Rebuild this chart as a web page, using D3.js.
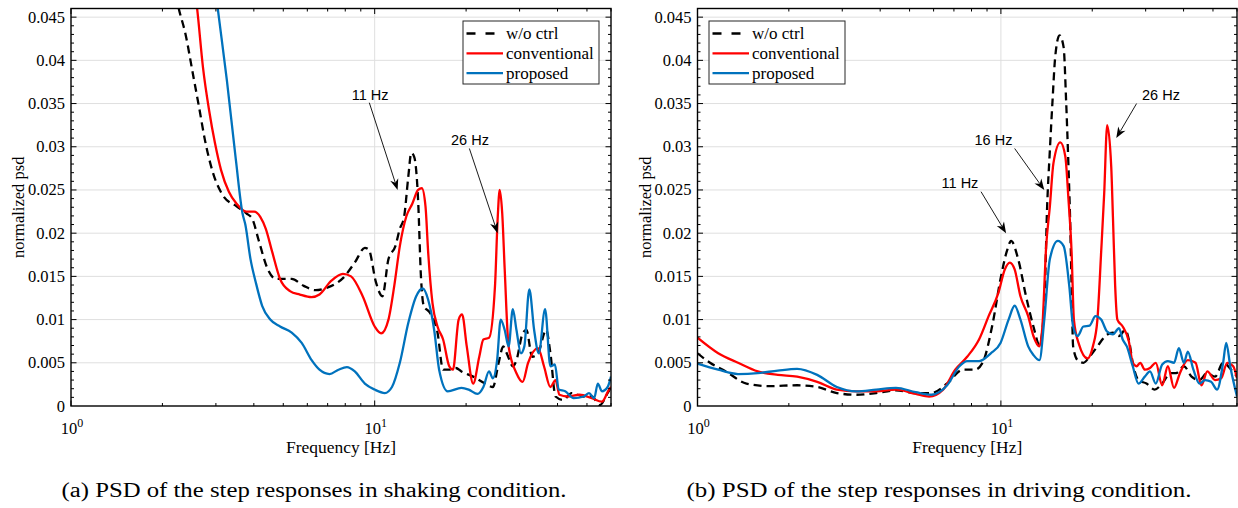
<!DOCTYPE html>
<html>
<head>
<meta charset="utf-8">
<script src="https://cdn.jsdelivr.net/npm/d3@7"></script>
<style>
  body { margin: 0; background: #fff; }
  svg { display: block; }
</style>
</head>
<body>
<svg id="fig" width="1238" height="508"></svg>
<script>
// ---- data (frequency in Hz, normalized psd) ----
var seriesNames = ["w/o ctrl", "conventional", "proposed"];
var yTicks = [0, 0.005, 0.01, 0.015, 0.02, 0.025, 0.03, 0.035, 0.04, 0.045];
var xTicks = [1, 10];

// (a) shaking condition
var shakeWoF = [2.1, 2.26, 2.38, 2.53, 2.64, 2.76, 2.94, 3.16, 3.51, 3.78, 3.96, 4.14, 4.45, 4.73, 5.33, 5.84, 6.38, 6.98, 7.86, 8.6, 9.28, 9.56, 10.1, 10.6, 11.1, 11.7, 12.1, 12.5, 12.9, 13.2, 13.5, 13.9, 14.2, 14.5, 15.2, 16.1, 16.8, 17.6, 18.5, 19.3, 21.1, 23.1, 24.5, 25.6, 26.5, 27.3, 28.5, 29.3, 30.7, 31.6, 33.0, 34.5, 36.7, 37.9, 39.4, 41.8, 44.5, 48.8, 51.9, 55.1, 58.5, 60];
var shakeWo  = [0.052, 0.0461, 0.0431, 0.0381, 0.0346, 0.0308, 0.0269, 0.0244, 0.0231, 0.0223, 0.0216, 0.0193, 0.0158, 0.0147, 0.0147, 0.0139, 0.0134, 0.0137, 0.0148, 0.0166, 0.0183, 0.0181, 0.0143, 0.0127, 0.0170, 0.0185, 0.0205, 0.0219, 0.0265, 0.0293, 0.0288, 0.0238, 0.0150, 0.0116, 0.0108, 0.0085, 0.0042, 0.0042, 0.0044, 0.0040, 0.0034, 0.0026, 0.0022, 0.0050, 0.0069, 0.0060, 0.0046, 0.0053, 0.0084, 0.0088, 0.0057, 0.0061, 0.0088, 0.0061, 0.0011, 0.0007, 0.0015, 0.0011, 0.0011, 0.0001, 0.0015, 0.0022];

var shakeConvF = [2.45, 2.60, 2.72, 2.85, 2.98, 3.12, 3.31, 3.51, 3.78, 4.01, 4.2, 4.38, 4.6, 4.88, 5.26, 5.67, 6.2, 6.58, 7.2, 7.86, 8.36, 9.13, 10.0, 10.5, 11.1, 11.6, 12.1, 12.7, 13.3, 13.9, 14.3, 14.7, 15.0, 15.5, 16.1, 16.8, 17.6, 18.1, 18.9, 19.4, 20.1, 21.1, 22.1, 22.8, 23.8, 24.9, 25.4, 25.8, 26.3, 26.8, 27.6, 29.3, 30.7, 32.0, 34.5, 36.1, 37.9, 39.4, 40.6, 43.1, 47.3, 51.9, 56.0, 59.1, 60];
var shakeConv  = [0.052, 0.0461, 0.0392, 0.0342, 0.0304, 0.0273, 0.0248, 0.0234, 0.0225, 0.0225, 0.0219, 0.0205, 0.0178, 0.0147, 0.0133, 0.0129, 0.0126, 0.0129, 0.0145, 0.0153, 0.0150, 0.0127, 0.0092, 0.0084, 0.0100, 0.0139, 0.0185, 0.0219, 0.0234, 0.0250, 0.0252, 0.0231, 0.0178, 0.0119, 0.0092, 0.0077, 0.0046, 0.0042, 0.0100, 0.0106, 0.0069, 0.0026, 0.0057, 0.0077, 0.0079, 0.0139, 0.0216, 0.0250, 0.0223, 0.0158, 0.0069, 0.0038, 0.0028, 0.0050, 0.0067, 0.0046, 0.0022, 0.0030, 0.0013, 0.0011, 0.0013, 0.0009, 0.0005, 0.0019, 0.0022];

var shakePropF = [2.9, 3.04, 3.26, 3.49, 3.67, 3.75, 3.9, 4.06, 4.26, 4.53, 4.88, 5.33, 5.75, 6.2, 6.58, 7.1, 7.6, 8.1, 8.6, 9.28, 10.0, 10.8, 11.4, 12.1, 12.9, 13.7, 14.4, 15.0, 15.7, 16.3, 17.4, 19.3, 20.4, 21.8, 22.8, 23.8, 24.5, 25.3, 26.0, 26.8, 27.6, 28.5, 29.3, 30.3, 31.1, 32.3, 33.5, 34.7, 36.4, 37.9, 39.2, 40.4, 42.4, 45.2, 48.8, 50.8, 52.8, 54.3, 56.0, 58.5, 60];
var shakeProp  = [0.052, 0.0461, 0.0377, 0.0285, 0.0223, 0.0210, 0.0170, 0.0143, 0.0116, 0.0100, 0.0092, 0.0085, 0.0073, 0.0053, 0.0042, 0.0037, 0.0042, 0.0045, 0.0040, 0.0026, 0.0019, 0.0015, 0.0022, 0.0050, 0.0096, 0.0127, 0.0136, 0.0123, 0.0088, 0.0042, 0.0017, 0.0021, 0.0019, 0.0014, 0.0022, 0.0040, 0.0032, 0.0053, 0.0100, 0.0088, 0.0069, 0.0112, 0.0088, 0.0061, 0.0069, 0.0135, 0.0088, 0.0061, 0.0112, 0.0046, 0.0048, 0.0019, 0.0017, 0.0009, 0.0011, 0.0015, 0.0009, 0.0026, 0.0017, 0.0022, 0.0034];

// (b) driving condition
var driveWoF = [1.0, 1.10, 1.24, 1.45, 1.73, 2.13, 2.48, 2.88, 3.34, 3.88, 4.51, 5.24, 5.9, 6.65, 7.5, 8.2, 8.7, 9.4, 9.97, 10.5, 10.8, 11.4, 12.1, 12.8, 13.4, 13.9, 14.2, 14.5, 14.8, 15.1, 15.6, 16.1, 16.4, 16.7, 16.9, 17.1, 17.3, 17.9, 18.7, 19.6, 20.8, 22.1, 23.4, 24.5, 25.7, 26.4, 27.2, 28.4, 30.2, 32.1, 34.0, 36.2, 37.8, 40.1, 42.5, 45.1, 47.8, 50.8, 54.0, 57.4, 60];
var driveWo  = [0.0061, 0.0050, 0.0040, 0.0026, 0.0023, 0.0024, 0.0022, 0.0015, 0.0013, 0.0015, 0.0018, 0.0015, 0.0015, 0.0026, 0.0042, 0.0042, 0.0050, 0.0096, 0.0147, 0.0181, 0.0191, 0.0170, 0.0127, 0.0092, 0.0071, 0.0116, 0.0230, 0.0296, 0.0354, 0.0404, 0.0429, 0.0415, 0.0354, 0.0277, 0.0219, 0.0139, 0.0069, 0.0053, 0.0050, 0.0057, 0.0069, 0.0081, 0.0085, 0.0081, 0.0088, 0.0077, 0.0050, 0.0030, 0.0026, 0.0019, 0.0026, 0.0038, 0.0038, 0.0046, 0.0034, 0.0030, 0.0038, 0.0034, 0.0050, 0.0042, 0.0034];

var driveConvF = [1.0, 1.17, 1.36, 1.58, 1.84, 2.13, 2.48, 2.88, 3.34, 3.88, 4.51, 5.24, 5.8, 6.45, 7.07, 7.74, 8.47, 9.11, 9.81, 10.3, 10.7, 11.1, 11.6, 12.3, 12.8, 13.4, 13.7, 14.1, 14.5, 14.9, 15.7, 16.3, 16.7, 17.1, 17.4, 18.1, 19.3, 20.1, 20.8, 21.4, 21.9, 22.4, 23.1, 23.4, 23.8, 24.2, 25.2, 26.4, 27.2, 28.0, 28.8, 29.8, 31.0, 32.4, 34.0, 35.5, 37.2, 38.9, 41.3, 43.8, 45.8, 47.9, 50.8, 53.2, 55.7, 58.3, 60];
var driveConv  = [0.0079, 0.0061, 0.0050, 0.0040, 0.0036, 0.0034, 0.0028, 0.0019, 0.0017, 0.0017, 0.0019, 0.0014, 0.0011, 0.0019, 0.0042, 0.0057, 0.0077, 0.0104, 0.0131, 0.0158, 0.0166, 0.0158, 0.0127, 0.0104, 0.0081, 0.0069, 0.0092, 0.0185, 0.0231, 0.0281, 0.0305, 0.0289, 0.0239, 0.0178, 0.0100, 0.0071, 0.0055, 0.0069, 0.0100, 0.0178, 0.0246, 0.0325, 0.0277, 0.0219, 0.0139, 0.0100, 0.0092, 0.0075, 0.0050, 0.0046, 0.0050, 0.0042, 0.0044, 0.0050, 0.0024, 0.0046, 0.0021, 0.0038, 0.0053, 0.0050, 0.0024, 0.0040, 0.0030, 0.0032, 0.0050, 0.0046, 0.0032];

var drivePropF = [1.0, 1.17, 1.36, 1.58, 1.84, 2.13, 2.48, 2.88, 3.34, 3.88, 4.51, 5.24, 5.9, 6.65, 7.3, 7.74, 8.47, 9.26, 9.97, 10.6, 11.1, 11.6, 12.3, 12.8, 13.4, 13.9, 14.5, 15.4, 16.1, 16.8, 17.3, 17.9, 18.7, 19.6, 20.5, 21.4, 22.4, 23.4, 24.5, 25.2, 26.0, 27.2, 28.4, 29.8, 31.0, 32.4, 34.0, 35.5, 37.2, 38.6, 40.1, 41.3, 43.1, 45.1, 47.1, 49.3, 51.6, 54.0, 55.3, 57.0, 60];
var driveProp  = [0.0049, 0.0042, 0.0037, 0.0038, 0.0041, 0.0043, 0.0036, 0.0022, 0.0017, 0.0019, 0.0021, 0.0016, 0.0013, 0.0024, 0.0046, 0.0052, 0.0052, 0.0061, 0.0073, 0.0100, 0.0116, 0.0100, 0.0069, 0.0059, 0.0053, 0.0100, 0.0170, 0.0191, 0.0185, 0.0139, 0.0092, 0.0081, 0.0092, 0.0093, 0.0104, 0.0100, 0.0086, 0.0083, 0.0090, 0.0077, 0.0069, 0.0046, 0.0026, 0.0034, 0.0040, 0.0026, 0.0048, 0.0052, 0.0050, 0.0067, 0.0050, 0.0063, 0.0042, 0.0026, 0.0030, 0.0028, 0.0019, 0.0050, 0.0073, 0.0046, 0.0011];

// annotations: label, label pos (f, v), arrow tail (f, v), arrow head (f, v)
var shakeNotes = [
  ["11 Hz", 9.66, 0.0360, 9.6, 0.0351, 11.9, 0.0250],
  ["26 Hz", 20.6, 0.0308, 20.5, 0.0298, 25.4, 0.0200]
];
var driveNotes = [
  ["26 Hz", 33.7, 0.0360, 28.0, 0.0350, 24.0, 0.0310],
  ["16 Hz", 9.45, 0.0308, 11.1, 0.0298, 13.9, 0.0250],
  ["11 Hz", 7.33, 0.0258, 8.6, 0.0248, 10.4, 0.0200]
];

var captions = ["(a) PSD of the step responses in shaking condition.",
                "(b) PSD of the step responses in driving condition."];

// ---- drawing ----
var colors = ["#000000", "#ff0000", "#0072bd"];
var dashes = ["8,5", null, null];
var serif = "'Liberation Serif', 'Times New Roman', serif";
var sans = "'Liberation Sans', Arial, sans-serif";

var svg = d3.select("#fig");
var Y0 = 406, Y1 = 8.5;

function drawPanel(p, idx) {
    var x = d3.scaleLog().domain([1, 60]).range([p.x0, p.x1]);
    var y = d3.scaleLinear().domain([0, 0.046]).range([Y0, Y1]);
    var g = svg.append("g");

    // grid
    g.selectAll("line.gy").data(yTicks.slice(1)).enter().append("line")
        .attr("x1", p.x0).attr("x2", p.x1)
        .attr("y1", function(d) { return y(d); }).attr("y2", function(d) { return y(d); })
        .attr("stroke", "#dfdfdf").attr("stroke-width", 1);
    g.selectAll("line.gx").data(xTicks.slice(1)).enter().append("line")
        .attr("x1", function(d) { return x(d); }).attr("x2", function(d) { return x(d); })
        .attr("y1", Y1).attr("y2", Y0)
        .attr("stroke", "#dfdfdf").attr("stroke-width", 1);

    // curves
    var clipId = "clip" + idx;
    svg.append("defs").append("clipPath").attr("id", clipId)
        .append("rect").attr("x", p.x0).attr("y", Y1)
        .attr("width", p.x1 - p.x0).attr("height", Y0 - Y1);
    var line = d3.line()
        .x(function(d) { return x(d[0]); })
        .y(function(d) { return y(d[1]); })
        .curve(d3.curveMonotoneX);
    var cg = g.append("g").attr("clip-path", "url(#" + clipId + ")");
    p.series.forEach(function(s, i) {
        var pts = d3.zip(s[0], s[1]);
        cg.append("path").datum(pts)
            .attr("d", line)
            .attr("fill", "none")
            .attr("stroke", colors[i])
            .attr("stroke-width", 2.3)
            .attr("stroke-dasharray", dashes[i])
            .attr("stroke-linejoin", "round");
    });

    // minor ticks (log) and y minor ticks, inward, both sides
    var minorX = [];
    [1, 10].forEach(function(dec) {
        for (var k = 2; k <= 9; k++) { if (dec * k <= 60) minorX.push(dec * k); }
    });
    var tk = g.append("g").attr("stroke", "#000").attr("stroke-width", 1);
    minorX.forEach(function(f) {
        tk.append("line").attr("x1", x(f)).attr("x2", x(f)).attr("y1", Y0).attr("y2", Y0 - 3);
        tk.append("line").attr("x1", x(f)).attr("x2", x(f)).attr("y1", Y1).attr("y2", Y1 + 3);
    });
    xTicks.forEach(function(f) {
        tk.append("line").attr("x1", x(f)).attr("x2", x(f)).attr("y1", Y0).attr("y2", Y0 - 5.5);
        tk.append("line").attr("x1", x(f)).attr("x2", x(f)).attr("y1", Y1).attr("y2", Y1 + 5.5);
    });
    d3.range(1, 46).forEach(function(k) {
        var v = k * 0.001, len = (k % 5 === 0) ? 5.5 : 3;
        tk.append("line").attr("x1", p.x0).attr("x2", p.x0 + len).attr("y1", y(v)).attr("y2", y(v));
        tk.append("line").attr("x1", p.x1).attr("x2", p.x1 - len).attr("y1", y(v)).attr("y2", y(v));
    });

    // box
    g.append("rect").attr("x", p.x0).attr("y", Y1)
        .attr("width", p.x1 - p.x0).attr("height", Y0 - Y1)
        .attr("fill", "none").attr("stroke", "#000").attr("stroke-width", 1.4);

    // y tick labels
    g.selectAll("text.yl").data(yTicks).enter().append("text")
        .attr("x", p.x0 - 6).attr("y", function(d) { return y(d) + 5.5; })
        .attr("text-anchor", "end")
        .attr("font-family", serif).attr("font-size", 16.5)
        .text(function(d) { return d === 0 ? "0" : String(+d.toFixed(3)); });

    // x tick labels 10^n
    xTicks.forEach(function(f, i) {
        var t = g.append("text").attr("x", x(f) + 1).attr("y", 434)
            .attr("text-anchor", "middle")
            .attr("font-family", serif).attr("font-size", 16.5);
        t.append("tspan").text("10");
        t.append("tspan").attr("dy", -7).attr("font-size", 12).text(String(i));
    });

    // axis labels
    g.append("text").attr("x", (p.x0 + p.x1) / 2).attr("y", 453)
        .attr("text-anchor", "middle")
        .attr("font-family", serif).attr("font-size", 16.5)
        .attr("textLength", 110).attr("lengthAdjust", "spacingAndGlyphs")
        .text("Frequency [Hz]");
    g.append("text")
        .attr("transform", "translate(" + (p.x0 - 47) + "," + ((Y0 + Y1) / 2) + ") rotate(-90)")
        .attr("text-anchor", "middle")
        .attr("font-family", serif).attr("font-size", 16.5)
        .text("normalized psd");

    // annotations
    p.notes.forEach(function(n) {
        g.append("text").attr("x", x(n[1])).attr("y", y(n[2]) + 5)
            .attr("text-anchor", "middle")
            .attr("font-family", sans).attr("font-size", 14.5)
            .text(n[0]);
        var x1 = x(n[3]), y1 = y(n[4]), x2 = x(n[5]), y2 = y(n[6]);
        var ang = Math.atan2(y2 - y1, x2 - x1);
        var L = 11, Wd = 4.2;
        var bx = x2 - L * Math.cos(ang), by = y2 - L * Math.sin(ang);
        var nx = x2 - 0.7 * L * Math.cos(ang), ny = y2 - 0.7 * L * Math.sin(ang);
        g.append("line").attr("x1", x1).attr("y1", y1).attr("x2", nx).attr("y2", ny)
            .attr("stroke", "#000").attr("stroke-width", 0.9);
        var head = [[x2, y2],
                    [bx - Wd * Math.sin(ang), by + Wd * Math.cos(ang)],
                    [nx, ny],
                    [bx + Wd * Math.sin(ang), by - Wd * Math.cos(ang)]];
        g.append("path").attr("d", "M" + head.join("L") + "Z").attr("fill", "#000");
    });

    // legend
    var lg = g.append("g").attr("transform", "translate(" + p.legX + ",21)");
    lg.append("rect").attr("width", 136).attr("height", 63)
        .attr("fill", "#fff").attr("stroke", "#262626").attr("stroke-width", 1);
    seriesNames.forEach(function(name, i) {
        var cy = 12.5 + i * 19.8;
        lg.append("line").attr("x1", 3.5).attr("x2", 40).attr("y1", cy).attr("y2", cy)
            .attr("stroke", colors[i]).attr("stroke-width", 2.3)
            .attr("stroke-dasharray", i === 0 ? "9,10" : null);
        lg.append("text").attr("x", 43).attr("y", cy + 5.5)
            .attr("font-family", serif).attr("font-size", 17)
            .text(name);
    });

    // caption
    svg.append("text").attr("x", p.capX).attr("y", 497)
        .attr("text-anchor", "middle")
        .attr("font-family", serif).attr("font-size", 20)
        .attr("textLength", 505).attr("lengthAdjust", "spacingAndGlyphs")
        .text(captions[idx]);
}

var panels = [
    { x0: 71, x1: 611, legX: 463, capX: 314,
      series: [[shakeWoF, shakeWo], [shakeConvF, shakeConv], [shakePropF, shakeProp]],
      notes: shakeNotes },
    { x0: 697.5, x1: 1237, legX: 709, capX: 939,
      series: [[driveWoF, driveWo], [driveConvF, driveConv], [drivePropF, driveProp]],
      notes: driveNotes }
];
panels.forEach(drawPanel);
</script>
</body>
</html>
